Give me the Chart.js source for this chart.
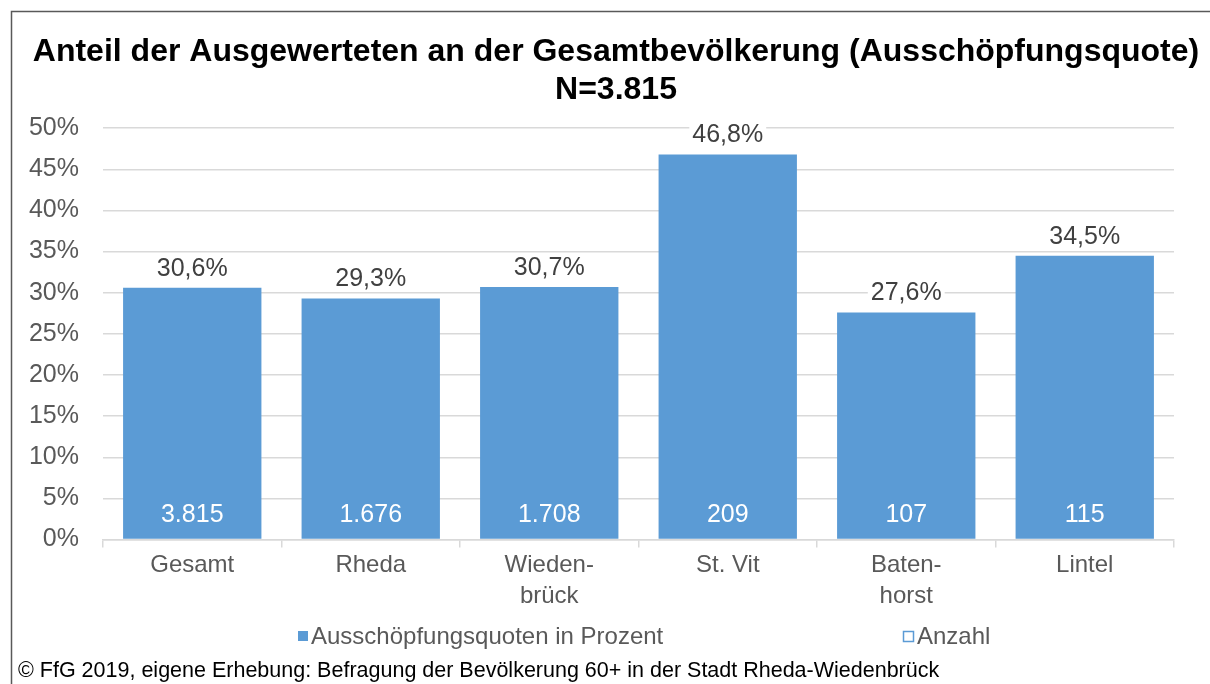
<!DOCTYPE html>
<html>
<head>
<meta charset="utf-8">
<script src="https://cdn.jsdelivr.net/npm/chart.js"></script>
<style>
  body { margin: 0; background: #fff; }
  #wrap { position: relative; width: 1210px; height: 684px; }
</style>
</head>
<body>
<div id="wrap"><canvas id="mycanvas"></canvas></div>
<script>
var categories = ['Gesamt', 'Rheda', ['Wieden-', 'brück'], 'St. Vit', ['Baten-', 'horst'], 'Lintel'];
var quote = [30.6, 29.3, 30.7, 46.8, 27.6, 34.5];
var anzahl = [3815, 1676, 1708, 209, 107, 115];
var yTicks = [0, 5, 10, 15, 20, 25, 30, 35, 40, 45, 50];
var titleLines = ['Anteil der Ausgewerteten an der Gesamtbevölkerung (Ausschöpfungsquote)', 'N=3.815'];
var footer = '© FfG 2019, eigene Erhebung: Befragung der Bevölkerung 60+ in der Stadt Rheda-Wiedenbrück';

var FONT = "'Liberation Sans', Arial, sans-serif";
var BLUE = '#5b9bd5';

function deNumber(n) {
  return String(n).replace(/\B(?=(\d{3})+(?!\d))/g, '.');
}

// frame, value labels, legend, footer
var extras = {
  id: 'extras',
  afterLayout: function(chart) {
    // let the y tick labels use the space left of the axis box
    chart.scales.y.left = 0;
  },
  beforeDraw: function(chart) {
    var ctx = chart.ctx;
    ctx.save();
    ctx.strokeStyle = '#595959';
    ctx.lineWidth = 1.5;
    ctx.beginPath();
    ctx.moveTo(11.5, 684);
    ctx.lineTo(11.5, 11.5);
    ctx.lineTo(1210, 11.5);
    ctx.stroke();
    ctx.restore();
  },
  afterDatasetsDraw: function(chart) {
    var ctx = chart.ctx;
    var meta = chart.getDatasetMeta(0);
    var base = chart.scales.y.getPixelForValue(0);
    ctx.save();
    ctx.font = '25px ' + FONT;
    ctx.textAlign = 'center';
    ctx.textBaseline = 'middle';
    meta.data.forEach(function(bar, i) {
      var txt = quote[i].toFixed(1).replace('.', ',') + '%';
      var w = ctx.measureText(txt).width;
      var ty = bar.y - 19;
      ctx.fillStyle = '#fff';
      ctx.fillRect(bar.x - w / 2 - 3, ty - 12, w + 6, 24);
      ctx.fillStyle = '#404040';
      ctx.fillText(txt, bar.x, ty);
      ctx.fillStyle = '#fff';
      ctx.fillText(deNumber(anzahl[i]), bar.x, base - 24);
    });
    ctx.restore();
  },
  afterDraw: function(chart) {
    var ctx = chart.ctx;
    var ds = chart.data.datasets;
    ctx.save();
    ctx.font = '24px ' + FONT;
    ctx.textBaseline = 'middle';
    ctx.textAlign = 'left';
    // legend item 1
    ctx.fillStyle = BLUE;
    ctx.fillRect(298, 631, 10, 10);
    ctx.fillStyle = '#595959';
    ctx.fillText(ds[0].label, 311, 637);
    // legend item 2
    ctx.strokeStyle = BLUE;
    ctx.lineWidth = 1.5;
    ctx.strokeRect(903.5, 631.5, 10, 10);
    ctx.fillStyle = '#595959';
    ctx.fillText(ds[1].label, 917, 637);
    // source line
    ctx.font = '21.5px ' + FONT;
    ctx.fillStyle = '#000';
    ctx.fillText(footer, 18, 671);
    ctx.restore();
  }
};

var chartdata = {
  labels: categories,
  datasets: [
    {
      label: 'Ausschöpfungsquoten in Prozent',
      backgroundColor: BLUE,
      barPercentage: 0.775,
      categoryPercentage: 1,
      data: quote
    },
    {
      label: 'Anzahl',
      hidden: true,
      yAxisID: 'yN',
      backgroundColor: 'rgba(0,0,0,0)',
      borderColor: BLUE,
      data: anzahl
    }
  ]
};

var ctx = document.getElementById('mycanvas');
var barGraph = new Chart(ctx, {
  type: 'bar',
  data: chartdata,
  plugins: [extras],
  options: {
    responsive: true,
    maintainAspectRatio: false,
    animation: false,
    events: [],
    layout: { padding: { left: 30, right: 8, top: 0, bottom: 70 } },
    plugins: {
      legend: { display: false },
      tooltip: { enabled: false },
      title: {
        display: true,
        text: titleLines,
        color: '#000',
        font: { family: FONT, size: 32, weight: 'bold', lineHeight: 1.19 },
        padding: { top: 33, bottom: 19 }
      }
    },
    scales: {
      x: {
        grid: { display: true, drawOnChartArea: false, tickLength: 8, color: '#d9d9d9', lineWidth: 1.5 },
        border: { color: '#d9d9d9', width: 1.5 },
        ticks: { color: '#595959', font: { family: FONT, size: 24, lineHeight: 1.3 }, padding: 2, maxRotation: 0, autoSkip: false }
      },
      y: {
        min: 0,
        max: 50,
        afterFit: function(scale) { scale.width = 73; },
        afterBuildTicks: function(scale) {
          scale.ticks = yTicks.map(function(v) { return { value: v }; });
        },
        grid: { color: '#d9d9d9', lineWidth: 1.5, drawTicks: false },
        border: { display: false },
        ticks: {
          color: '#595959',
          font: { family: FONT, size: 25 },
          padding: 24,
          callback: function(v) { return v + '%'; }
        }
      },
      yN: {
        position: 'right',
        min: 0,
        afterFit: function(scale) { scale.width = 28; },
        grid: { display: false },
        border: { display: false },
        ticks: { display: false }
      }
    }
  }
});
</script>
</body>
</html>
